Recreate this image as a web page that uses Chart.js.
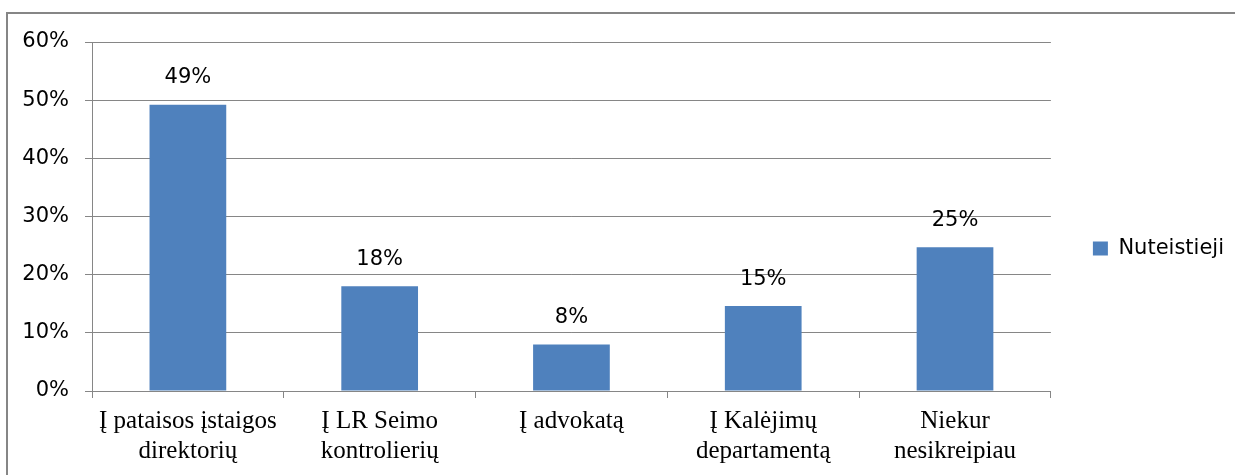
<!DOCTYPE html>
<html>
<head>
<meta charset="utf-8">
<script src="https://cdn.jsdelivr.net/npm/chart.js@4.4.1/dist/chart.umd.min.js"></script>
<style>
  html, body { margin: 0; padding: 0; background: #fff; overflow: hidden; }
  #wrap { position: relative; width: 1235px; height: 475px; }
  #frame {
    position: absolute; left: 6px; top: 12px; width: 1240px; height: 500px;
    border: 2px solid #868686; pointer-events: none;
  }
</style>
</head>
<body>
<div id="wrap">
  <canvas id="myChart" width="1235" height="475"></canvas>
  <div id="frame"></div>
</div>
<script>
"use strict";
// data
const categories = [
  ["Į pataisos įstaigos", "direktorių"],
  ["Į LR Seimo", "kontrolierių"],
  ["Į advokatą", ""],
  ["Į Kalėjimų", "departamentą"],
  ["Niekur", "nesikreipiau"],
];
const seriesName = "Nuteistieji";
const values = [49.2, 18, 8, 14.6, 24.7];
const yTicks = [0, 10, 20, 30, 40, 50, 60];

const gridColor = "#868686";
const barColor = "#4F81BD";

//labels above the bars
const valueLabels = {
  id: "valueLabels",
  afterDatasetsDraw(chart) {
    const ctx = chart.ctx;
    const meta = chart.getDatasetMeta(0);
    ctx.save();
    ctx.font = "21px 'DejaVu Sans'";
    ctx.fillStyle = "#000";
    ctx.textAlign = "center";
    ctx.textBaseline = "middle";
    meta.data.forEach((bar, i) => {
      ctx.fillText(Math.round(values[i]) + "%", bar.x, bar.y - 27);
    });
    ctx.restore();
  },
};

// legend sits a bit higher than the centre of its box
const legendShift = {
  id: "legendShift",
  afterLayout(chart) {
    if (chart.legend) {
      chart.legend.bottom -= 20;
    }
  },
};

const ctx = document.getElementById("myChart");
new Chart(ctx, {
  type: "bar",
  data: {
    labels: categories,
    datasets: [
      {
        label: seriesName,
        data: values,
        backgroundColor: barColor,
        barPercentage: 0.4,
        categoryPercentage: 1,
      },
    ],
  },
  options: {
    responsive: false,
    animation: false,
    layout: {
      padding: { top: 42, left: 0, right: 1, bottom: 0 },
    },
    plugins: {
      tooltip: { enabled: false },
      legend: {
        position: "right",
        labels: {
          boxWidth: 15,
          boxHeight: 14,
          padding: 42,
          color: "#000",
          font: { family: "'DejaVu Sans'", size: 21 },
        },
      },
    },
    scales: {
      x: {
        offset: true,
        afterFit: (scale) => {
          scale.height = 84;
        },
        grid: {
          offset: true,
          drawOnChartArea: false,
          drawTicks: true,
          tickLength: 7,
          color: gridColor,
        },
        border: { color: gridColor, width: 1 },
        ticks: {
          color: "#000",
          padding: 8,
          maxRotation: 0,
          font: { family: "'Liberation Serif'", size: 25, lineHeight: 1.2 },
        },
      },
      y: {
        min: 0,
        max: 60,
        afterFit: (scale) => {
          scale.width = 92;
        },
        afterBuildTicks: (scale) => {
          scale.ticks = yTicks.map((v) => ({ value: v }));
        },
        grid: {
          color: gridColor,
          tickLength: 7,
        },
        border: { color: gridColor, width: 1 },
        ticks: {
          color: "#000",
          padding: 16,
          font: { family: "'DejaVu Sans'", size: 21 },
          callback: (v) => v + "%",
        },
      },
    },
  },
  plugins: [valueLabels, legendShift],
});
</script>
</body>
</html>
